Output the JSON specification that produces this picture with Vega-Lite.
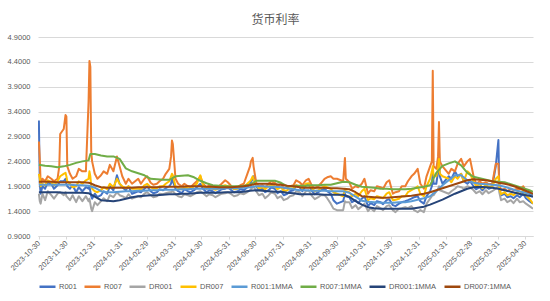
{
"$schema": "https://vega.github.io/schema/vega-lite/v6.json",
"width": 495, "height": 199,
"autosize": "none",
"padding": {"left": 38, "top": 37, "right": 17, "bottom": 65},
"background": "white",
"title": {"text": "货币利率", "fontSize": 12, "font": "Noto Sans CJK SC", "fontWeight": "normal", "color": "#595959", "anchor": "middle", "frame": "group", "dx": -10, "baseline": "bottom", "offset": -6},
"config": {"font": "Liberation Sans", "view": {"stroke": null}},
"data": {"values": [
{"d":"2023-10-30","R001":3.22,"R007":2.8,"DR001":1.75,"DR007":2.15,"R001:1MMA":1.93,"R007:1MMA":2.33,"DR001:1MMA":1.78,"DR007:1MMA":1.99},
{"d":"2023-10-31","R001":1.95,"R007":2.45,"DR001":1.6,"DR007":2.05},
{"d":"2023-11-01","R001":1.75,"R007":1.95,"DR001":1.55,"DR007":1.9},
{"d":"2023-11-03","R001":1.9,"R007":2.05,"DR001":1.75,"DR007":1.95},
{"d":"2023-11-06","R001":1.85,"R007":2.0,"DR001":1.62,"DR007":1.92,"R001:1MMA":1.93,"R007:1MMA":2.31,"DR001:1MMA":1.78,"DR007:1MMA":1.99},
{"d":"2023-11-09","R001":1.98,"R007":2.1,"DR001":1.8,"DR007":2.02},
{"d":"2023-11-13","R001":1.95,"R007":2.05,"DR001":1.72,"DR007":1.98,"R001:1MMA":1.93,"R007:1MMA":2.30,"DR001:1MMA":1.78,"DR007:1MMA":1.99},
{"d":"2023-11-16","R001":1.85,"R007":2.0,"DR001":1.65,"DR007":1.92},
{"d":"2023-11-20","R001":1.92,"R007":2.05,"DR001":1.75,"DR007":2.0,"R001:1MMA":1.93,"R007:1MMA":2.28,"DR001:1MMA":1.78,"DR007:1MMA":1.98},
{"d":"2023-11-22","R007":2.3},
{"d":"2023-11-23","R007":2.95,"R001":2.0,"DR001":1.78,"DR007":2.1},
{"d":"2023-11-27","R001":2.0,"R007":3.05,"DR001":1.72,"DR007":2.15,"R001:1MMA":1.93,"R007:1MMA":2.30,"DR001:1MMA":1.77,"DR007:1MMA":1.98},
{"d":"2023-11-29","R001":2.05,"R007":3.33,"DR001":1.78,"DR007":2.17},
{"d":"2023-11-30","R001":1.95,"R007":3.3,"DR001":1.7,"DR007":2.1},
{"d":"2023-12-01","R001":1.9,"R007":2.3,"DR001":1.68,"DR007":2.0},
{"d":"2023-12-04","R001":1.85,"R007":2.15,"DR001":1.62,"DR007":1.95,"R001:1MMA":1.93,"R007:1MMA":2.33,"DR001:1MMA":1.77,"DR007:1MMA":1.98},
{"d":"2023-12-07","R001":1.92,"R007":2.05,"DR001":1.72,"DR007":1.88},
{"d":"2023-12-11","R001":1.78,"R007":2.1,"DR001":1.58,"DR007":1.9,"R001:1MMA":1.92,"R007:1MMA":2.37,"DR001:1MMA":1.77,"DR007:1MMA":1.98},
{"d":"2023-12-14","R001":1.88,"R007":2.25,"DR001":1.7,"DR007":2.0},
{"d":"2023-12-18","R001":1.8,"R007":2.2,"DR001":1.6,"DR007":1.95,"R001:1MMA":1.92,"R007:1MMA":2.40,"DR001:1MMA":1.77,"DR007:1MMA":1.98},
{"d":"2023-12-22","R001":1.88,"R007":2.2,"DR001":1.7,"DR007":2.02},
{"d":"2023-12-25","R001":1.85,"R007":3.6,"DR001":1.6,"DR007":2.05,"R001:1MMA":1.91,"R007:1MMA":2.42,"DR001:1MMA":1.76,"DR007:1MMA":1.97},
{"d":"2023-12-26","R001":1.9,"R007":4.42,"DR001":1.65,"DR007":2.2},
{"d":"2023-12-27","R001":1.8,"R007":4.3,"DR001":1.55,"DR007":2.1,"R001:1MMA":1.9,"R007:1MMA":2.55,"DR001:1MMA":1.74,"DR007:1MMA":1.96},
{"d":"2023-12-28","R001":1.7,"R007":2.6,"DR001":1.45,"DR007":1.9},
{"d":"2023-12-29","R001":1.65,"R007":2.4,"DR001":1.4,"DR007":1.85},
{"d":"2024-01-01","R001":1.75,"R007":2.15,"DR001":1.58,"DR007":1.8,"R001:1MMA":1.87,"R007:1MMA":2.55,"DR001:1MMA":1.69,"DR007:1MMA":1.92},
{"d":"2024-01-04","R001":1.68,"R007":2.05,"DR001":1.52,"DR007":1.78},
{"d":"2024-01-08","R001":1.72,"R007":2.12,"DR001":1.6,"DR007":1.82,"R001:1MMA":1.80,"R007:1MMA":2.52,"DR001:1MMA":1.62,"DR007:1MMA":1.88},
{"d":"2024-01-11","R001":1.8,"R007":2.2,"DR001":1.66,"DR007":1.88},
{"d":"2024-01-15","R001":1.75,"R007":2.15,"DR001":1.6,"DR007":1.84,"R001:1MMA":1.78,"R007:1MMA":2.50,"DR001:1MMA":1.61,"DR007:1MMA":1.87},
{"d":"2024-01-18","R001":1.9,"R007":2.33,"DR001":1.72,"DR007":1.95},
{"d":"2024-01-22","R001":1.82,"R007":2.2,"DR001":1.68,"DR007":1.88,"R001:1MMA":1.78,"R007:1MMA":2.50,"DR001:1MMA":1.60,"DR007:1MMA":1.87},
{"d":"2024-01-26","R001":2.12,"R007":2.5,"DR001":1.78,"DR007":2.05},
{"d":"2024-01-29","R001":1.95,"R007":2.3,"DR001":1.72,"DR007":1.95,"R001:1MMA":1.79,"R007:1MMA":2.45,"DR001:1MMA":1.62,"DR007:1MMA":1.87},
{"d":"2024-02-01","R001":1.88,"R007":2.1,"DR001":1.7,"DR007":1.9},
{"d":"2024-02-05","R001":1.82,"R007":1.95,"DR001":1.66,"DR007":1.86,"R001:1MMA":1.80,"R007:1MMA":2.26,"DR001:1MMA":1.65,"DR007:1MMA":1.87},
{"d":"2024-02-08","R001":1.9,"R007":2.05,"DR001":1.74,"DR007":1.9},
{"d":"2024-02-12","R001":1.75,"R007":1.95,"DR001":1.65,"DR007":1.85,"R001:1MMA":1.80,"R007:1MMA":2.20,"DR001:1MMA":1.68,"DR007:1MMA":1.87},
{"d":"2024-02-19","R001":1.8,"R007":2.05,"DR001":1.7,"DR007":1.85,"R001:1MMA":1.81,"R007:1MMA":2.16,"DR001:1MMA":1.70,"DR007:1MMA":1.88},
{"d":"2024-02-22","R001":1.78,"R007":1.95,"DR001":1.68,"DR007":1.84},
{"d":"2024-02-26","R001":1.85,"R007":2.05,"DR001":1.75,"DR007":1.92,"R001:1MMA":1.81,"R007:1MMA":2.12,"DR001:1MMA":1.71,"DR007:1MMA":1.88},
{"d":"2024-02-29","R001":1.9,"R007":2.1,"DR001":1.78,"DR007":1.95},
{"d":"2024-03-04","R001":1.8,"R007":1.97,"DR001":1.72,"DR007":1.88,"R001:1MMA":1.82,"R007:1MMA":2.05,"DR001:1MMA":1.72,"DR007:1MMA":1.88},
{"d":"2024-03-07","R001":1.76,"R007":1.93,"DR001":1.68,"DR007":1.85},
{"d":"2024-03-11","R001":1.78,"R007":1.95,"DR001":1.7,"DR007":1.86,"R001:1MMA":1.82,"R007:1MMA":2.04,"DR001:1MMA":1.72,"DR007:1MMA":1.88},
{"d":"2024-03-14","R001":1.84,"R007":2.0,"DR001":1.75,"DR007":1.9},
{"d":"2024-03-18","R001":1.82,"R007":2.05,"DR001":1.74,"DR007":1.9,"R001:1MMA":1.83,"R007:1MMA":2.03,"DR001:1MMA":1.73,"DR007:1MMA":1.89},
{"d":"2024-03-21","R001":1.86,"R007":2.15,"DR001":1.76,"DR007":1.95},
{"d":"2024-03-25","R001":1.9,"R007":2.25,"DR001":1.78,"DR007":2.0,"R001:1MMA":1.83,"R007:1MMA":2.03,"DR001:1MMA":1.74,"DR007:1MMA":1.89},
{"d":"2024-03-27","R001":1.95,"R007":2.5,"DR001":1.78,"DR007":2.1},
{"d":"2024-03-28","R001":2.05,"R007":2.82,"DR001":1.8,"DR007":2.15},
{"d":"2024-03-29","R001":2.0,"R007":2.75,"DR001":1.8,"DR007":2.12},
{"d":"2024-04-01","R001":1.85,"R007":2.05,"DR001":1.74,"DR007":1.9,"R001:1MMA":1.83,"R007:1MMA":2.10,"DR001:1MMA":1.74,"DR007:1MMA":1.89},
{"d":"2024-04-04","R001":1.8,"R007":1.95,"DR001":1.7,"DR007":1.86},
{"d":"2024-04-08","R001":1.76,"R007":1.9,"DR001":1.68,"DR007":1.84,"R001:1MMA":1.84,"R007:1MMA":2.11,"DR001:1MMA":1.75,"DR007:1MMA":1.89},
{"d":"2024-04-11","R001":1.84,"R007":1.95,"DR001":1.74,"DR007":1.88},
{"d":"2024-04-15","R001":1.8,"R007":1.9,"DR001":1.72,"DR007":1.86,"R001:1MMA":1.84,"R007:1MMA":2.12,"DR001:1MMA":1.75,"DR007:1MMA":1.90},
{"d":"2024-04-18","R001":1.78,"R007":1.88,"DR001":1.7,"DR007":1.85},
{"d":"2024-04-22","R001":1.82,"R007":1.95,"DR001":1.74,"DR007":1.9,"R001:1MMA":1.85,"R007:1MMA":2.08,"DR001:1MMA":1.76,"DR007:1MMA":1.90},
{"d":"2024-04-25","R001":1.88,"R007":2.0,"DR001":1.78,"DR007":1.95},
{"d":"2024-04-29","R001":1.95,"R007":2.1,"DR001":1.8,"DR007":2.12,"R001:1MMA":1.85,"R007:1MMA":2.01,"DR001:1MMA":1.77,"DR007:1MMA":1.90},
{"d":"2024-05-02","R001":1.85,"R007":1.95,"DR001":1.76,"DR007":1.92},
{"d":"2024-05-06","R001":1.78,"R007":1.88,"DR001":1.7,"DR007":1.85,"R001:1MMA":1.85,"R007:1MMA":1.96,"DR001:1MMA":1.77,"DR007:1MMA":1.89},
{"d":"2024-05-09","R001":1.82,"R007":1.92,"DR001":1.74,"DR007":1.87},
{"d":"2024-05-13","R001":1.8,"R007":1.88,"DR001":1.72,"DR007":1.85,"R001:1MMA":1.85,"R007:1MMA":1.92,"DR001:1MMA":1.77,"DR007:1MMA":1.89},
{"d":"2024-05-16","R001":1.76,"R007":1.86,"DR001":1.68,"DR007":1.83},
{"d":"2024-05-20","R001":1.8,"R007":1.9,"DR001":1.72,"DR007":1.86,"R001:1MMA":1.85,"R007:1MMA":1.91,"DR001:1MMA":1.77,"DR007:1MMA":1.88},
{"d":"2024-05-23","R001":1.84,"R007":1.95,"DR001":1.75,"DR007":1.9},
{"d":"2024-05-27","R001":1.85,"R007":2.02,"DR001":1.76,"DR007":1.92,"R001:1MMA":1.86,"R007:1MMA":1.90,"DR001:1MMA":1.78,"DR007:1MMA":1.88},
{"d":"2024-05-30","R001":1.88,"R007":1.98,"DR001":1.78,"DR007":1.9},
{"d":"2024-06-03","R001":1.82,"R007":1.9,"DR001":1.74,"DR007":1.87,"R001:1MMA":1.86,"R007:1MMA":1.90,"DR001:1MMA":1.78,"DR007:1MMA":1.88},
{"d":"2024-06-06","R001":1.78,"R007":1.87,"DR001":1.7,"DR007":1.84},
{"d":"2024-06-10","R001":1.8,"R007":1.88,"DR001":1.72,"DR007":1.85,"R001:1MMA":1.86,"R007:1MMA":1.90,"DR001:1MMA":1.78,"DR007:1MMA":1.89},
{"d":"2024-06-13","R001":1.84,"R007":1.92,"DR001":1.76,"DR007":1.88},
{"d":"2024-06-17","R001":1.82,"R007":1.95,"DR001":1.74,"DR007":1.88,"R001:1MMA":1.87,"R007:1MMA":1.91,"DR001:1MMA":1.79,"DR007:1MMA":1.90},
{"d":"2024-06-21","R001":1.88,"R007":2.15,"DR001":1.78,"DR007":1.95},
{"d":"2024-06-24","R001":1.95,"R007":2.3,"DR001":1.82,"DR007":2.0,"R001:1MMA":1.88,"R007:1MMA":1.93,"DR001:1MMA":1.81,"DR007:1MMA":1.92},
{"d":"2024-06-25","R001":1.98,"R007":2.4,"DR001":1.84,"DR007":2.02},
{"d":"2024-06-27","R001":2.05,"R007":2.47,"DR001":1.88,"DR007":2.1},
{"d":"2024-06-28","R001":2.1,"R007":2.3,"DR001":1.9,"DR007":2.05},
{"d":"2024-07-01","R001":1.9,"R007":1.97,"DR001":1.8,"DR007":1.92,"R001:1MMA":1.90,"R007:1MMA":2.01,"DR001:1MMA":1.82,"DR007:1MMA":1.95},
{"d":"2024-07-04","R001":1.82,"R007":1.9,"DR001":1.72,"DR007":1.86},
{"d":"2024-07-08","R001":1.85,"R007":1.92,"DR001":1.75,"DR007":1.88,"R001:1MMA":1.90,"R007:1MMA":2.01,"DR001:1MMA":1.81,"DR007:1MMA":1.95},
{"d":"2024-07-11","R001":1.78,"R007":1.88,"DR001":1.66,"DR007":1.84},
{"d":"2024-07-15","R001":1.82,"R007":1.95,"DR001":1.72,"DR007":1.9,"R001:1MMA":1.89,"R007:1MMA":2.01,"DR001:1MMA":1.80,"DR007:1MMA":1.95},
{"d":"2024-07-18","R001":1.88,"R007":2.0,"DR001":1.78,"DR007":1.92},
{"d":"2024-07-22","R001":1.85,"R007":1.97,"DR001":1.75,"DR007":1.9,"R001:1MMA":1.89,"R007:1MMA":2.01,"DR001:1MMA":1.79,"DR007:1MMA":1.94},
{"d":"2024-07-25","R001":1.76,"R007":1.9,"DR001":1.66,"DR007":1.84},
{"d":"2024-07-29","R001":1.8,"R007":1.95,"DR001":1.7,"DR007":1.88,"R001:1MMA":1.88,"R007:1MMA":1.97,"DR001:1MMA":1.79,"DR007:1MMA":1.93},
{"d":"2024-08-01","R001":1.72,"R007":1.85,"DR001":1.62,"DR007":1.8},
{"d":"2024-08-05","R001":1.75,"R007":1.88,"DR001":1.65,"DR007":1.82,"R001:1MMA":1.86,"R007:1MMA":1.90,"DR001:1MMA":1.77,"DR007:1MMA":1.91},
{"d":"2024-08-08","R001":1.8,"R007":1.9,"DR001":1.7,"DR007":1.85},
{"d":"2024-08-12","R001":1.82,"R007":1.92,"DR001":1.72,"DR007":1.86,"R001:1MMA":1.84,"R007:1MMA":1.90,"DR001:1MMA":1.76,"DR007:1MMA":1.90},
{"d":"2024-08-15","R001":1.92,"R007":2.02,"DR001":1.8,"DR007":1.92},
{"d":"2024-08-19","R001":1.88,"R007":1.98,"DR001":1.78,"DR007":1.9,"R001:1MMA":1.82,"R007:1MMA":1.91,"DR001:1MMA":1.74,"DR007:1MMA":1.88},
{"d":"2024-08-22","R001":1.8,"R007":1.92,"DR001":1.7,"DR007":1.86},
{"d":"2024-08-26","R001":1.92,"R007":2.02,"DR001":1.8,"DR007":1.95,"R001:1MMA":1.82,"R007:1MMA":1.91,"DR001:1MMA":1.74,"DR007:1MMA":1.87},
{"d":"2024-08-29","R001":1.95,"R007":2.05,"DR001":1.82,"DR007":1.96},
{"d":"2024-09-02","R001":1.8,"R007":1.9,"DR001":1.7,"DR007":1.85,"R001:1MMA":1.81,"R007:1MMA":1.92,"DR001:1MMA":1.74,"DR007:1MMA":1.87},
{"d":"2024-09-05","R001":1.74,"R007":1.86,"DR001":1.64,"DR007":1.8},
{"d":"2024-09-09","R001":1.78,"R007":1.9,"DR001":1.68,"DR007":1.82,"R001:1MMA":1.81,"R007:1MMA":1.92,"DR001:1MMA":1.74,"DR007:1MMA":1.87},
{"d":"2024-09-12","R001":1.82,"R007":1.96,"DR001":1.72,"DR007":1.86},
{"d":"2024-09-16","R001":1.85,"R007":2.05,"DR001":1.72,"DR007":1.9,"R001:1MMA":1.81,"R007:1MMA":1.93,"DR001:1MMA":1.73,"DR007:1MMA":1.87},
{"d":"2024-09-19","R001":1.8,"R007":2.08,"DR001":1.66,"DR007":1.88},
{"d":"2024-09-23","R001":1.75,"R007":2.1,"DR001":1.55,"DR007":1.85,"R001:1MMA":1.80,"R007:1MMA":1.93,"DR001:1MMA":1.73,"DR007:1MMA":1.86},
{"d":"2024-09-26","R001":1.62,"R007":2.05,"DR001":1.45,"DR007":1.78},
{"d":"2024-09-30","R001":1.55,"R007":2.05,"DR001":1.42,"DR007":1.75,"R001:1MMA":1.80,"R007:1MMA":1.96,"DR001:1MMA":1.73,"DR007:1MMA":1.86},
{"d":"2024-10-07","R001":1.6,"R007":2.0,"DR001":1.42,"DR007":1.7,"R001:1MMA":1.80,"R007:1MMA":1.99,"DR001:1MMA":1.73,"DR007:1MMA":1.85},
{"d":"2024-10-09","R001":1.75,"R007":2.47,"DR001":1.6,"DR007":1.85},
{"d":"2024-10-10","R001":1.7,"R007":2.05,"DR001":1.58,"DR007":1.8},
{"d":"2024-10-14","R001":1.68,"R007":1.98,"DR001":1.58,"DR007":1.78,"R001:1MMA":1.77,"R007:1MMA":1.98,"DR001:1MMA":1.69,"DR007:1MMA":1.84},
{"d":"2024-10-17","R001":1.58,"R007":1.85,"DR001":1.46,"DR007":1.7},
{"d":"2024-10-21","R001":1.62,"R007":1.9,"DR001":1.52,"DR007":1.75,"R001:1MMA":1.69,"R007:1MMA":1.93,"DR001:1MMA":1.60,"DR007:1MMA":1.78},
{"d":"2024-10-24","R001":1.56,"R007":1.88,"DR001":1.44,"DR007":1.7},
{"d":"2024-10-28","R001":1.65,"R007":1.95,"DR001":1.5,"DR007":1.8,"R001:1MMA":1.61,"R007:1MMA":1.89,"DR001:1MMA":1.53,"DR007:1MMA":1.70},
{"d":"2024-10-31","R001":1.7,"R007":2.05,"DR001":1.55,"DR007":1.85},
{"d":"2024-11-04","R001":1.5,"R007":1.75,"DR001":1.4,"DR007":1.62,"R001:1MMA":1.59,"R007:1MMA":1.88,"DR001:1MMA":1.48,"DR007:1MMA":1.69},
{"d":"2024-11-07","R001":1.56,"R007":1.82,"DR001":1.46,"DR007":1.66},
{"d":"2024-11-11","R001":1.52,"R007":1.8,"DR001":1.4,"DR007":1.64,"R001:1MMA":1.58,"R007:1MMA":1.87,"DR001:1MMA":1.46,"DR007:1MMA":1.68},
{"d":"2024-11-14","R001":1.6,"R007":1.9,"DR001":1.5,"DR007":1.7},
{"d":"2024-11-18","R001":1.58,"R007":1.88,"DR001":1.46,"DR007":1.68,"R001:1MMA":1.57,"R007:1MMA":1.85,"DR001:1MMA":1.45,"DR007:1MMA":1.67},
{"d":"2024-11-21","R001":1.54,"R007":1.85,"DR001":1.42,"DR007":1.66},
{"d":"2024-11-25","R001":1.62,"R007":1.98,"DR001":1.5,"DR007":1.75,"R001:1MMA":1.57,"R007:1MMA":1.85,"DR001:1MMA":1.45,"DR007:1MMA":1.67},
{"d":"2024-11-28","R001":1.64,"R007":2.02,"DR001":1.52,"DR007":1.78},
{"d":"2024-12-02","R001":1.52,"R007":1.75,"DR001":1.42,"DR007":1.62,"R001:1MMA":1.57,"R007:1MMA":1.84,"DR001:1MMA":1.45,"DR007:1MMA":1.68},
{"d":"2024-12-05","R001":1.5,"R007":1.78,"DR001":1.38,"DR007":1.63},
{"d":"2024-12-09","R001":1.55,"R007":1.8,"DR001":1.45,"DR007":1.65,"R001:1MMA":1.58,"R007:1MMA":1.84,"DR001:1MMA":1.45,"DR007:1MMA":1.69},
{"d":"2024-12-12","R001":1.58,"R007":1.9,"DR001":1.46,"DR007":1.7},
{"d":"2024-12-16","R001":1.6,"R007":1.9,"DR001":1.48,"DR007":1.7,"R001:1MMA":1.58,"R007:1MMA":1.84,"DR001:1MMA":1.45,"DR007:1MMA":1.70},
{"d":"2024-12-19","R001":1.62,"R007":2.0,"DR001":1.46,"DR007":1.78},
{"d":"2024-12-23","R001":1.65,"R007":2.1,"DR001":1.5,"DR007":1.82,"R001:1MMA":1.60,"R007:1MMA":1.85,"DR001:1MMA":1.45,"DR007:1MMA":1.71},
{"d":"2024-12-26","R001":1.68,"R007":2.15,"DR001":1.42,"DR007":1.85},
{"d":"2024-12-30","R001":1.7,"R007":2.25,"DR001":1.38,"DR007":1.9,"R001:1MMA":1.63,"R007:1MMA":1.87,"DR001:1MMA":1.47,"DR007:1MMA":1.73},
{"d":"2025-01-02","R001":1.6,"R007":1.95,"DR001":1.42,"DR007":1.75},
{"d":"2025-01-06","R001":1.55,"R007":1.85,"DR001":1.38,"DR007":1.7,"R001:1MMA":1.66,"R007:1MMA":1.89,"DR001:1MMA":1.49,"DR007:1MMA":1.75},
{"d":"2025-01-09","R001":1.7,"R007":2.1,"DR001":1.55,"DR007":1.9},
{"d":"2025-01-13","R001":1.8,"R007":2.3,"DR001":1.65,"DR007":2.05,"R001:1MMA":1.70,"R007:1MMA":1.92,"DR001:1MMA":1.53,"DR007:1MMA":1.78},
{"d":"2025-01-15","R001":1.9,"R007":2.4,"DR001":1.7,"DR007":2.2},
{"d":"2025-01-16","R001":2.2,"R007":4.22,"DR001":1.75,"DR007":2.3},
{"d":"2025-01-17","R001":1.95,"R007":2.3,"DR001":1.72,"DR007":2.1},
{"d":"2025-01-20","R001":1.95,"R007":2.25,"DR001":1.8,"DR007":2.1,"R001:1MMA":1.80,"R007:1MMA":2.17,"DR001:1MMA":1.58,"DR007:1MMA":1.82},
{"d":"2025-01-22","R001":2.2,"R007":2.5,"DR001":1.85,"DR007":2.25},
{"d":"2025-01-23","R001":2.6,"R007":3.19,"DR001":1.9,"DR007":2.45},
{"d":"2025-01-24","R001":2.1,"R007":2.4,"DR001":1.82,"DR007":2.15},
{"d":"2025-01-27","R001":1.95,"R007":2.3,"DR001":1.8,"DR007":2.1,"R001:1MMA":1.92,"R007:1MMA":2.31,"DR001:1MMA":1.63,"DR007:1MMA":1.86},
{"d":"2025-02-03","R001":2.1,"R007":2.15,"DR001":1.75,"DR007":2.05,"R001:1MMA":2.02,"R007:1MMA":2.36,"DR001:1MMA":1.69,"DR007:1MMA":1.90},
{"d":"2025-02-06","R001":2.05,"R007":2.25,"DR001":1.8,"DR007":1.98},
{"d":"2025-02-10","R001":2.2,"R007":2.2,"DR001":1.85,"DR007":2.1,"R001:1MMA":2.12,"R007:1MMA":2.40,"DR001:1MMA":1.75,"DR007:1MMA":1.94},
{"d":"2025-02-13","R001":2.1,"R007":2.35,"DR001":1.9,"DR007":2.05},
{"d":"2025-02-17","R001":2.15,"R007":2.45,"DR001":1.88,"DR007":2.15,"R001:1MMA":2.12,"R007:1MMA":2.32,"DR001:1MMA":1.80,"DR007:1MMA":1.98},
{"d":"2025-02-20","R001":2.0,"R007":2.3,"DR001":1.85,"DR007":2.0},
{"d":"2025-02-24","R001":1.95,"R007":2.4,"DR001":1.9,"DR007":2.2,"R001:1MMA":2.02,"R007:1MMA":2.17,"DR001:1MMA":1.85,"DR007:1MMA":2.02},
{"d":"2025-02-27","R001":2.0,"R007":2.45,"DR001":1.88,"DR007":2.15},
{"d":"2025-03-03","R001":1.9,"R007":2.1,"DR001":1.82,"DR007":2.0,"R001:1MMA":1.97,"R007:1MMA":2.09,"DR001:1MMA":1.88,"DR007:1MMA":2.04},
{"d":"2025-03-06","R001":1.84,"R007":1.95,"DR001":1.76,"DR007":1.9},
{"d":"2025-03-10","R001":1.88,"R007":2.0,"DR001":1.8,"DR007":1.95,"R001:1MMA":1.95,"R007:1MMA":2.06,"DR001:1MMA":1.89,"DR007:1MMA":2.03},
{"d":"2025-03-13","R001":1.82,"R007":1.95,"DR001":1.74,"DR007":1.86},
{"d":"2025-03-17","R001":1.9,"R007":1.98,"DR001":1.82,"DR007":1.93,"R001:1MMA":1.94,"R007:1MMA":2.03,"DR001:1MMA":1.88,"DR007:1MMA":2.02},
{"d":"2025-03-20","R001":1.85,"R007":1.94,"DR001":1.76,"DR007":1.88},
{"d":"2025-03-24","R001":1.88,"R007":1.95,"DR001":1.8,"DR007":1.9,"R001:1MMA":1.93,"R007:1MMA":2.00,"DR001:1MMA":1.87,"DR007:1MMA":2.00},
{"d":"2025-03-28","R001":2.3,"R007":2.35,"DR001":1.85,"DR007":2.05},
{"d":"2025-03-31","R001":2.83,"R007":2.35,"DR001":1.9,"DR007":2.1,"R001:1MMA":1.92,"R007:1MMA":1.99,"DR001:1MMA":1.85,"DR007:1MMA":1.97},
{"d":"2025-04-01","R001":1.85,"R007":1.95,"DR001":1.78,"DR007":1.85},
{"d":"2025-04-03","R001":1.72,"R007":1.82,"DR001":1.62,"DR007":1.74},
{"d":"2025-04-07","R001":1.75,"R007":1.85,"DR001":1.65,"DR007":1.78,"R001:1MMA":1.89,"R007:1MMA":1.98,"DR001:1MMA":1.82,"DR007:1MMA":1.95},
{"d":"2025-04-10","R001":1.68,"R007":1.8,"DR001":1.58,"DR007":1.72},
{"d":"2025-04-14","R001":1.7,"R007":1.85,"DR001":1.62,"DR007":1.75,"R001:1MMA":1.85,"R007:1MMA":1.94,"DR001:1MMA":1.79,"DR007:1MMA":1.92},
{"d":"2025-04-17","R001":1.66,"R007":1.82,"DR001":1.56,"DR007":1.72},
{"d":"2025-04-21","R001":1.72,"R007":1.85,"DR001":1.65,"DR007":1.78,"R001:1MMA":1.81,"R007:1MMA":1.90,"DR001:1MMA":1.76,"DR007:1MMA":1.88},
{"d":"2025-04-24","R001":1.68,"R007":1.84,"DR001":1.58,"DR007":1.74},
{"d":"2025-04-28","R001":1.75,"R007":1.9,"DR001":1.6,"DR007":1.82,"R001:1MMA":1.78,"R007:1MMA":1.86,"DR001:1MMA":1.73,"DR007:1MMA":1.83},
{"d":"2025-05-01","R001":1.66,"R007":1.8,"DR001":1.55,"DR007":1.72},
{"d":"2025-05-05","R001":1.6,"R007":1.75,"DR001":1.5,"DR007":1.65,"R001:1MMA":1.75,"R007:1MMA":1.82,"DR001:1MMA":1.71,"DR007:1MMA":1.78},
{"d":"2025-05-09","R001":1.55,"R007":1.7,"DR001":1.45,"DR007":1.55,"R001:1MMA":1.72,"R007:1MMA":1.79,"DR001:1MMA":1.69,"DR007:1MMA":1.75}
]},
"transform": [
{"fold": ["R001","R007","DR001","DR007","R001:1MMA","R007:1MMA","DR001:1MMA","DR007:1MMA"], "as": ["series","value"]},
{"filter": "isValid(datum.value)"}
],
"mark": {"type": "line", "strokeWidth": 2, "strokeJoin": "round", "clip": true},
"encoding": {
"x": {"field": "d", "type": "temporal", "title": null,
 "scale": {"type": "utc", "domain": [{"year":2023,"month":10,"date":29,"utc":true},{"year":2025,"month":5,"date":9,"utc":true}]},
 "axis": {"values": [
  {"year":2023,"month":10,"date":30,"utc":true},{"year":2023,"month":11,"date":30,"utc":true},{"year":2023,"month":12,"date":31,"utc":true},
  {"year":2024,"month":1,"date":31,"utc":true},{"year":2024,"month":2,"date":29,"utc":true},{"year":2024,"month":3,"date":31,"utc":true},
  {"year":2024,"month":4,"date":30,"utc":true},{"year":2024,"month":5,"date":31,"utc":true},{"year":2024,"month":6,"date":30,"utc":true},
  {"year":2024,"month":7,"date":31,"utc":true},{"year":2024,"month":8,"date":31,"utc":true},{"year":2024,"month":9,"date":30,"utc":true},
  {"year":2024,"month":10,"date":31,"utc":true},{"year":2024,"month":11,"date":30,"utc":true},{"year":2024,"month":12,"date":31,"utc":true},
  {"year":2025,"month":1,"date":31,"utc":true},{"year":2025,"month":2,"date":28,"utc":true},{"year":2025,"month":3,"date":31,"utc":true},
  {"year":2025,"month":4,"date":30,"utc":true}],
  "format": "%Y-%m-%d", "labelAngle": -45, "labelAlign": "right", "labelBaseline": "middle",
  "labelFontSize": 7.5, "labelColor": "#595959", "labelOverlap": false, "labelPadding": 3,
  "grid": false, "domainColor": "#d9d9d9", "tickColor": "#d9d9d9", "tickSize": 3}},
"y": {"field": "value", "type": "quantitative", "title": null,
 "scale": {"domain": [0.9, 4.9], "nice": false, "zero": false},
 "axis": {"values": [0.9,1.4,1.9,2.4,2.9,3.4,3.9,4.4,4.9], "format": ".4f", "domain": false, "ticks": false,
  "gridColor": "#d9d9d9", "labelPadding": 8, "labelFontSize": 7.5, "labelColor": "#595959"}},
"color": {"field": "series", "type": "nominal",
 "scale": {"domain": ["R001","R007","DR001","DR007","R001:1MMA","R007:1MMA","DR001:1MMA","DR007:1MMA"],
  "range": ["#4472C4","#ED7D31","#A5A5A5","#FFC000","#5B9BD5","#70AD47","#264478","#9E480E"]},
 "legend": {"title": null, "orient": "none", "direction": "horizontal", "columns": 8, "legendX": 0, "legendY": 240,
  "symbolType": "stroke", "symbolSize": 256, "symbolStrokeWidth": 2.5, "labelFontSize": 7.5, "labelColor": "#595959",
  "labelOffset": 2, "columnPadding": 2, "padding": 0}}
}
}
